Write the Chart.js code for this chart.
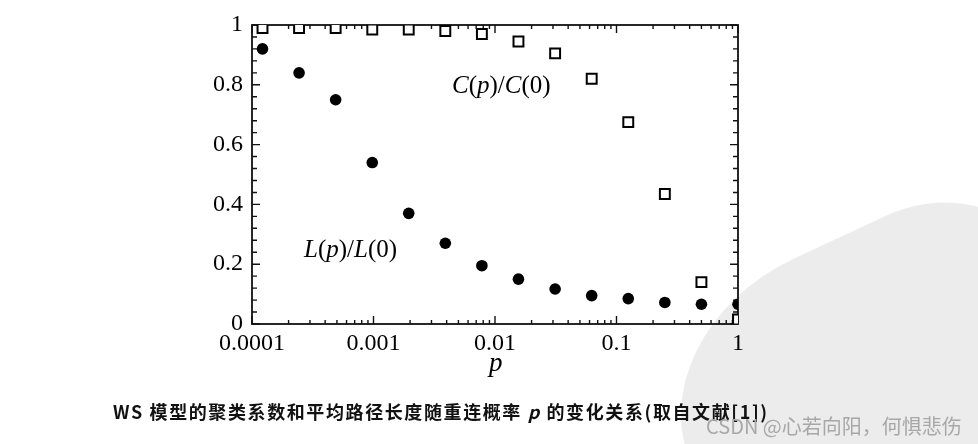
<!DOCTYPE html>
<html>
<head>
<meta charset="utf-8">
<script src="https://cdn.jsdelivr.net/npm/chart.js@4.4.1/dist/chart.umd.min.js"></script>
<style>
  body { margin: 0; background: #fff; width: 978px; height: 444px; overflow: hidden; position: relative; }
  #blob { position: absolute; left: 680px; top: 235px; width: 400px; height: 320px; background: #ececec;
          border-radius: 45% 30% 20% 50%; transform: rotate(-25deg); }
  #c { position: absolute; left: 0; top: 0; }
  .cap { position: absolute; left: 113px; top: 398px; font: bold 18px "Noto Sans CJK SC", sans-serif;
         letter-spacing: 1.6px; color: #111; white-space: nowrap; }
  .wm { position: absolute; left: 706px; top: 411px; font: 20px "Noto Sans CJK SC", sans-serif;
        color: #a8a8a8; white-space: nowrap; }
</style>
</head>
<body>
<div id="blob"></div>
<canvas id="c" width="978" height="444"></canvas>
<div class="cap">WS 模型的聚类系数和平均路径长度随重连概率 <i>p</i> 的变化关系(取自文献[1])</div>
<div class="wm">CSDN @心若向阳，何惧悲伤</div>
<script>
// rewiring probability p and the two normalised measures
const pValues = [0.000122, 0.000244, 0.000488, 0.000977, 0.00195, 0.0039, 0.0078,
                 0.0156, 0.03125, 0.0625, 0.125, 0.25, 0.5, 1];
const cRatio = [0.99, 0.99, 0.99, 0.985, 0.985, 0.98, 0.97, 0.945, 0.905, 0.82, 0.675, 0.435, 0.14, 0.015];
const lRatio = [0.92, 0.84, 0.75, 0.54, 0.37, 0.27, 0.195, 0.15, 0.117, 0.095, 0.085, 0.072, 0.066, 0.066];
const xTicks = [0.0001, 0.001, 0.01, 0.1, 1];
const yTicks = [0, 0.2, 0.4, 0.6, 0.8, 1];

const serif = "'Liberation Serif', 'DejaVu Serif', serif";

function drawRich(ctx, parts, x, y, size) {
  let cx = x;
  for (const [txt, it] of parts) {
    ctx.font = (it ? "italic " : "") + size + "px " + serif;
    ctx.fillText(txt, cx, y);
    cx += ctx.measureText(txt).width;
  }
}

const frame = {
  id: "frame",
  beforeDatasetsDraw(chart) {
    const { ctx, chartArea: a, scales: { x, y } } = chart;
    ctx.save();
    ctx.strokeStyle = "#111";
    ctx.lineWidth = 1.8;
    ctx.strokeRect(a.left, a.top, a.right - a.left, a.bottom - a.top);
    ctx.lineWidth = 1.4;
    ctx.beginPath();
    // y ticks every 0.04, major every 0.2
    for (let i = 0; i <= 25; i++) {
      const py = y.getPixelForValue(i * 0.04);
      const len = i % 5 === 0 ? 8 : 5;
      ctx.moveTo(a.left, py); ctx.lineTo(a.left + len, py);
      ctx.moveTo(a.right, py); ctx.lineTo(a.right - len, py);
    }
    // log x ticks
    for (let e = -4; e <= 0; e++) {
      for (let m = 1; m < 10; m++) {
        const v = m * Math.pow(10, e);
        if (v > 1.0001) break;
        const px = x.getPixelForValue(v);
        const len = m === 1 ? 8 : 4;
        ctx.moveTo(px, a.bottom); ctx.lineTo(px, a.bottom - len);
        ctx.moveTo(px, a.top); ctx.lineTo(px, a.top + len);
      }
    }
    ctx.stroke();
    ctx.restore();
  },
  afterDraw(chart) {
    const { ctx } = chart;
    ctx.save();
    ctx.fillStyle = "#000";
    ctx.textBaseline = "middle";
    drawRich(ctx, [["C", 1], ["(", 0], ["p", 1], [")/", 0], ["C", 1], ["(0)", 0]], 452, 86, 25);
    drawRich(ctx, [["L", 1], ["(", 0], ["p", 1], [")/", 0], ["L", 1], ["(0)", 0]], 304, 250, 25);
    drawRich(ctx, [["p", 1]], 489, 364, 27);
    ctx.restore();
  }
};

new Chart(document.getElementById("c"), {
  type: "scatter",
  data: {
    datasets: [
      {
        label: "C(p)/C(0)",
        data: pValues.map((p, i) => ({ x: p, y: cRatio[i] })),
        pointStyle: "rect",
        pointRadius: 7,
        borderWidth: 2,
        borderColor: "#000",
        backgroundColor: "#fff"
      },
      {
        label: "L(p)/L(0)",
        data: pValues.map((p, i) => ({ x: p, y: lRatio[i] })),
        pointStyle: "circle",
        pointRadius: 5.8,
        borderWidth: 0,
        backgroundColor: "#000"
      }
    ]
  },
  options: {
    responsive: false,
    animation: false,
    layout: { padding: { left: 0, top: 25, right: 240, bottom: 80 } },
    plugins: { legend: { display: false }, tooltip: { enabled: false } },
    scales: {
      x: {
        type: "logarithmic",
        min: 0.0001,
        max: 1,
        afterBuildTicks: s => { s.ticks = xTicks.map(v => ({ value: v })); },
        afterFit: s => { s.height = 40; },
        grid: { drawOnChartArea: false, drawTicks: false },
        border: { display: false },
        ticks: {
          autoSkip: false, maxRotation: 0, padding: 5, color: "#000",
          font: { family: serif, size: 24 },
          callback: v => String(v)
        }
      },
      y: {
        min: 0,
        max: 1,
        afterBuildTicks: s => { s.ticks = yTicks.map(v => ({ value: v })); },
        afterFit: s => { s.width = 252; },
        grid: { drawOnChartArea: false, drawTicks: false },
        border: { display: false },
        ticks: {
          padding: 9, color: "#000",
          font: { family: serif, size: 24 },
          callback: v => (v === 0 || v === 1) ? String(v) : v.toFixed(1)
        }
      }
    }
  },
  plugins: [frame]
});
</script>
</body>
</html>
